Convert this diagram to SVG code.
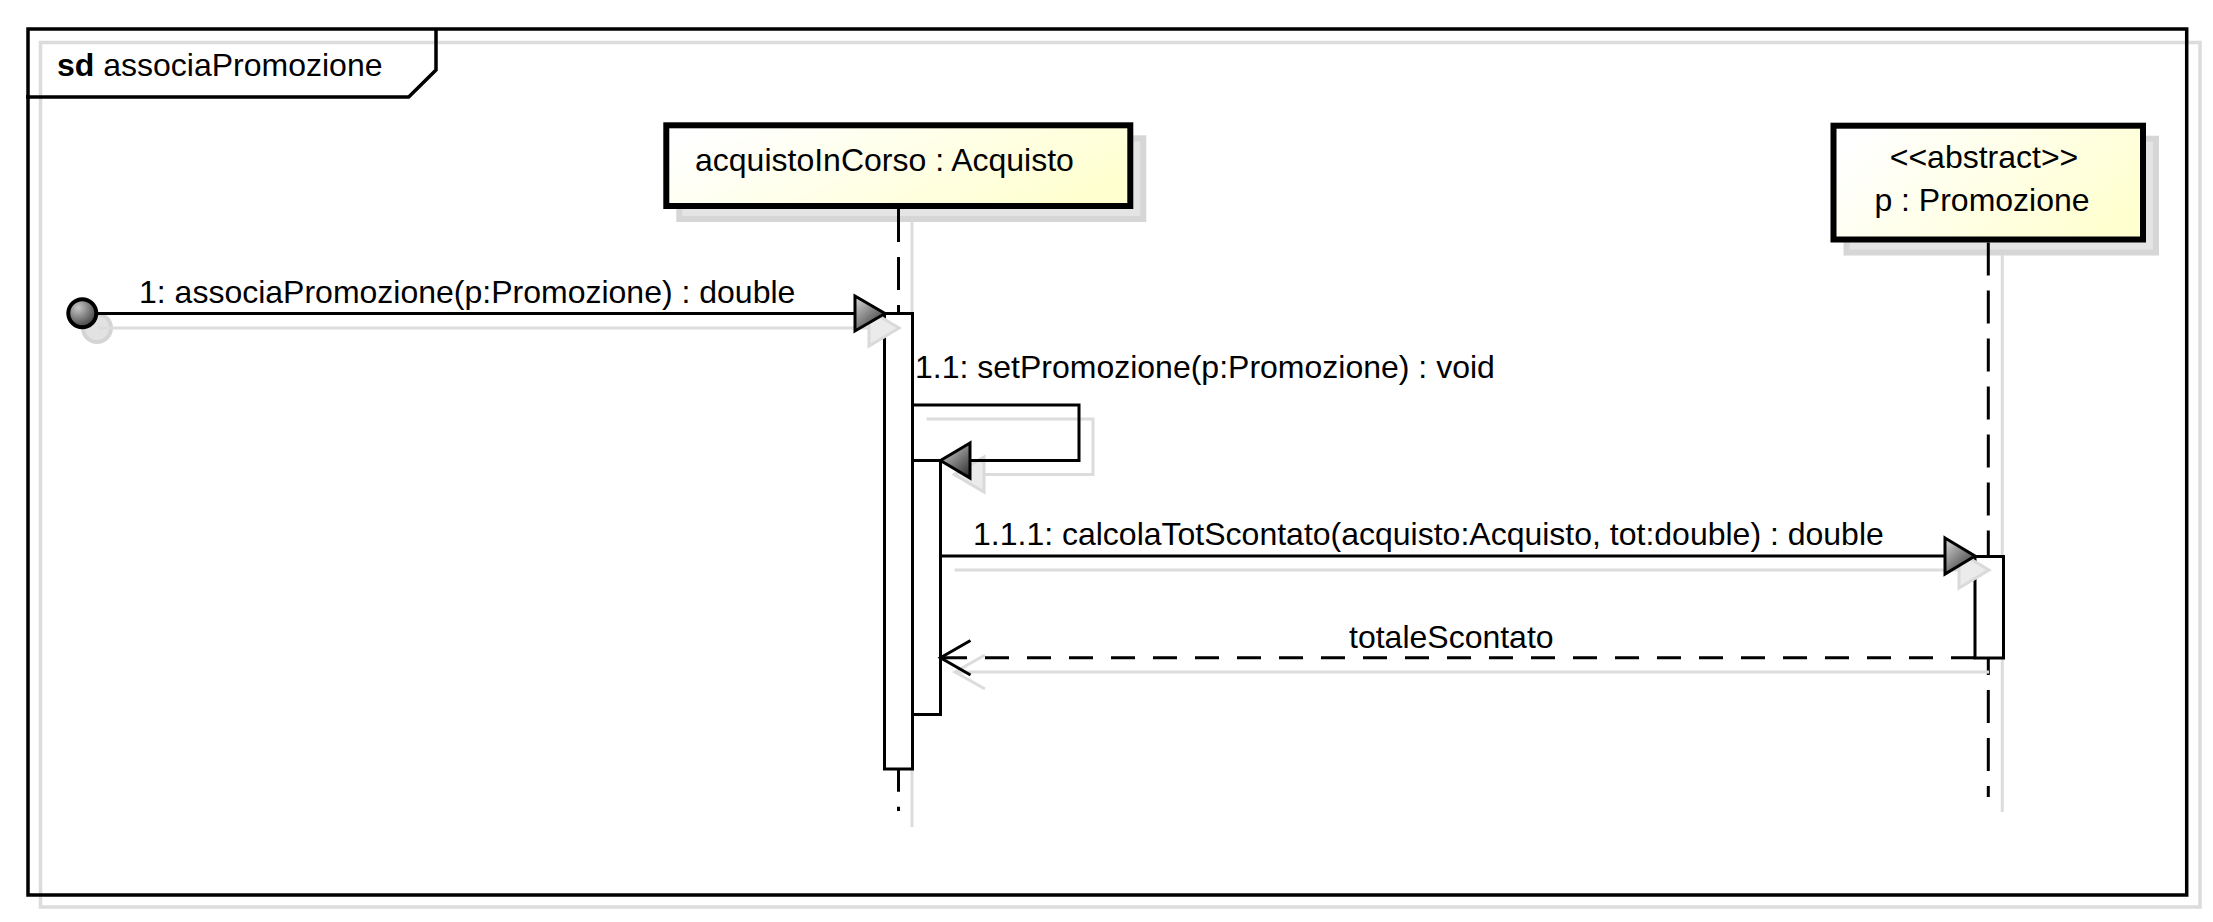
<svg xmlns="http://www.w3.org/2000/svg" width="2213" height="922" viewBox="0 0 2213 922">
  <style>
    .txt { font-family: "Liberation Sans", Arial, sans-serif; font-size: 32px; fill: #000; }
    .frame { fill: none; stroke: #000; stroke-width: 3.5; }
    .frameShadow { fill: none; stroke: #dcdcdc; stroke-width: 3.5; }
    .box { fill: url(#gBox); stroke: #000; stroke-width: 6; }
    .boxShadow { fill: #e4e4e4; stroke: #d6d6d6; stroke-width: 6; }
    .life { fill: none; stroke: #000; stroke-width: 3; stroke-dasharray: 33 15; }
    .lifeShadow { fill: none; stroke: #dcdcdc; stroke-width: 3; }
    .bar { fill: #fff; stroke: #000; stroke-width: 3; }
    .msg { fill: none; stroke: #000; stroke-width: 3; }
    .ret { fill: none; stroke: #000; stroke-width: 3; stroke-dasharray: 24 18; }
    .sh { fill: none; stroke: #dcdcdc; stroke-width: 3; }
    .tri { fill: url(#gTri); stroke: #000; stroke-width: 3; stroke-linejoin: miter; }
    .triShadow { fill: #ebebeb; stroke: #dadada; stroke-width: 3; }
    .open { fill: none; stroke: #000; stroke-width: 3; }
    .openShadow { fill: none; stroke: #dcdcdc; stroke-width: 3; }
  </style>
  <defs>
    <linearGradient id="gBox" x1="0" y1="0.3" x2="1" y2="0.7">
      <stop offset="0" stop-color="#ffffff"/>
      <stop offset="1" stop-color="#ffffcf"/>
    </linearGradient>
    <linearGradient id="gTri" x1="0.1" y1="0" x2="0.9" y2="1">
      <stop offset="0" stop-color="#d4d4d4"/>
      <stop offset="1" stop-color="#2e2e2e"/>
    </linearGradient>
    <radialGradient id="gCirc" cx="0.35" cy="0.3" r="0.8">
      <stop offset="0" stop-color="#c8c8c8"/>
      <stop offset="1" stop-color="#333333"/>
    </radialGradient>
  </defs>

  <rect width="2213" height="922" fill="#fff"/>

  <g id="frame">
    <rect class="frameShadow" x="40.5" y="42.5" width="2159.5" height="864.5"/>
    <rect class="frame" x="28" y="29" width="2158.7" height="866"/>
    <path class="frame" d="M26,97 H408.7 L436,70 V29"/>
    <text class="txt" x="57" y="76"><tspan font-weight="bold">sd</tspan> associaPromozione</text>
  </g>

  <g id="node-acquistoInCorso">
    <rect class="boxShadow" x="679.3" y="138.3" width="464" height="80.7"/>
    <line class="lifeShadow" x1="912" y1="222" x2="912" y2="827"/>
    <line class="life" x1="898.5" y1="209" x2="898.5" y2="313.5"/>
    <line class="life" x1="898.5" y1="758.7" x2="898.5" y2="811"/>
    <rect class="box" x="666.3" y="125.3" width="464" height="80.7"/>
    <text class="txt" x="695" y="171">acquistoInCorso : Acquisto</text>
    <rect class="bar" x="884.5" y="313.5" width="28" height="455.5"/>
    <rect class="bar" x="912.5" y="460.5" width="28" height="254"/>
  </g>

  <g id="node-promozione">
    <rect class="boxShadow" x="1846.5" y="138.7" width="309.5" height="113.8"/>
    <line class="lifeShadow" x1="2002.3" y1="255" x2="2002.3" y2="812"/>
    <line class="life" x1="1988.3" y1="242.5" x2="1988.3" y2="556"/>
    <line class="life" x1="1988.3" y1="642" x2="1988.3" y2="797"/>
    <rect class="box" x="1833.5" y="125.7" width="309.5" height="113.8"/>
    <text class="txt" x="1984" y="168" text-anchor="middle">&lt;&lt;abstract&gt;&gt;</text>
    <text class="txt" x="1982" y="211" text-anchor="middle">p : Promozione</text>
    <rect class="bar" x="1975" y="556.5" width="28.5" height="101.5"/>
  </g>

  <g id="node-initial">
    <circle cx="97" cy="328" r="14" fill="#e2e2e2" stroke="#d4d4d4" stroke-width="4"/>
  </g>

  <g id="connectors">
    <!-- shadows -->
    <line class="sh" x1="98" y1="328" x2="870" y2="328"/>
    <polygon class="triShadow" points="869,310 899,328 869,346"/>
    <path class="sh" d="M926.5,419 H1093 V474.5 H984"/>
    <polygon class="triShadow" points="984,457 954.5,474.5 984,492"/>
    <line class="sh" x1="954.5" y1="570" x2="1959" y2="570"/>
    <polygon class="triShadow" points="1959,552 1989,570 1959,588"/>
    <line class="sh" x1="1989" y1="672" x2="956" y2="672"/>
    <polyline class="openShadow" points="985,655 955,672 985,689"/>

    <!-- 1: associaPromozione -->
    <line class="msg" x1="96" y1="313.5" x2="856" y2="313.5"/>
    <polygon class="tri" points="855,296 885,313.5 855,331"/>
    <text class="txt" x="139" y="303">1: associaPromozione(p:Promozione) : double</text>

    <!-- 1.1: setPromozione (self) -->
    <path class="msg" d="M912.5,405 H1079 V460.5 H970"/>
    <polygon class="tri" points="970,443 940.5,460.5 970,478"/>
    <text class="txt" x="915" y="378">1.1: setPromozione(p:Promozione) : void</text>

    <!-- 1.1.1: calcolaTotScontato -->
    <line class="msg" x1="940.5" y1="556" x2="1946" y2="556"/>
    <polygon class="tri" points="1945,538 1975,556 1945,574"/>
    <text class="txt" x="973" y="545">1.1.1: calcolaTotScontato(acquisto:Acquisto, tot:double) : double</text>

    <!-- return totaleScontato -->
    <line class="ret" x1="1975" y1="657.7" x2="941" y2="657.7"/>
    <polyline class="open" points="970.5,640.5 940.5,657.7 970.5,675"/>
    <text class="txt" x="1349" y="648">totaleScontato</text>
  </g>

  <g id="node-initial-top">
    <circle cx="82.3" cy="313.3" r="14" fill="url(#gCirc)" stroke="#000" stroke-width="4"/>
  </g>
</svg>
